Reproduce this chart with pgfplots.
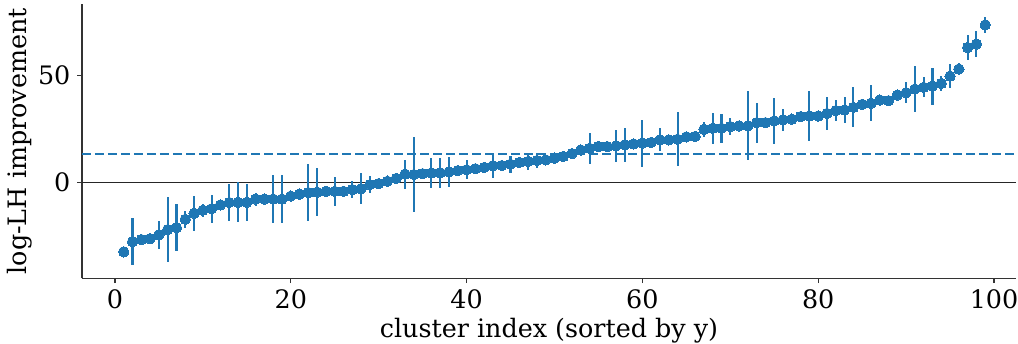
\documentclass[border=0pt]{standalone}
\usepackage{fontspec}
\setmainfont{DejaVu Serif}
\usepackage{pgfplots}
\pgfplotsset{compat=1.18}
\usepackage{pgfplotstable}
\definecolor{c0}{HTML}{1F77B4}
\newcommand\chartfont{\fontsize{25.4pt}{30pt}\selectfont}
\pgfplotstableread{
x y e
1 -32.1 0.8
2 -27.4 11
3 -26.4 1.5
4 -26.0 1.5
5 -24.2 6.6
6 -21.8 15
7 -20.9 11
8 -17.0 4
9 -14.2 8
10 -12.8 3
11 -12.1 6.4
12 -10.3 2
13 -9.2 8.6
14 -9.1 9.2
15 -9.1 8.7
16 -7.6 3
17 -7.6 1.5
18 -7.6 11
19 -7.6 11
20 -6.2 1.5
21 -5.3 2
22 -4.6 13.3
23 -4.4 11
24 -4.0 1.5
25 -4.0 6.7
26 -4.0 2
27 -3.2 4
28 -2.8 7.3
29 -0.9 4
30 -0.4 2
31 0.7 2
32 2.0 2.5
33 4.0 6.7
34 3.8 17.4
35 4.2 1.5
36 4.5 6.8
37 4.6 7
38 5.0 6.8
39 5.6 2
40 6.0 4.5
41 6.5 1.5
42 7.1 1.5
43 7.9 5.5
44 8.0 1.5
45 8.6 4
46 9.4 1.5
47 9.9 3.8
48 10.3 3.5
49 10.6 1.5
50 11.4 1.5
51 12.2 2
52 13.5 1.5
53 15.2 2
54 16.0 7.3
55 16.8 2
56 16.8 1.5
57 17.1 7.5
58 17.6 8
59 18.0 1.5
60 18.4 10.9
61 18.7 2
62 19.9 5.4
63 19.9 1.5
64 20.2 12.5
65 21.3 1.5
66 21.5 1.5
67 24.8 3.5
68 25.3 7.3
69 25.3 6.8
70 26.1 4
71 26.4 1.5
72 26.4 16
73 27.9 9.3
74 27.9 1.5
75 28.7 10.6
76 29.2 5
77 29.5 2.5
78 30.7 1.5
79 31.0 11.6
80 31.0 1.5
81 32.2 7.6
82 33.5 5
83 33.8 6
84 35.0 9.3
85 36.4 1.5
86 36.9 8.3
87 38.4 1.5
88 38.1 1.5
89 40.7 1.5
90 41.8 5
91 43.5 10.6
92 44.3 4.6
93 44.9 8.6
94 46.1 3.5
95 49.5 5.5
96 52.8 3
97 62.8 5.6
98 64.4 6
99 73.3 3.8
}\datatable
\begin{document}
\begin{tikzpicture}
\useasboundingbox (-82pt,-64.7pt) rectangle (936pt,278.3pt);
\begin{axis}[
  at={(0pt,0pt)}, anchor=south west,
  scale only axis, width=934pt, height=274.3pt,
  xmin=-3.75, xmax=102.5, ymin=-44.4, ymax=83.0,
  axis lines*=left,
  axis line style={-, black!80, line width=1.1pt},
  tick align=outside, major tick length=4.9pt,
  tick style={black!80, line width=1.1pt},
  xtick={0,20,40,60,80,100}, ytick={0,50},
  minor tick num=0,
  /pgf/number format/assume math mode=true,
  ticklabel style={font=\chartfont},
  xticklabel style={anchor=north, inner sep=0pt, yshift=-6pt},
  yticklabel style={anchor=east, inner sep=0pt, xshift=-6.5pt},
  xlabel={cluster index (sorted by y)},
  ylabel={log-LH improvement},
  every axis x label/.style={at={(axis description cs:0.5,-0.2175)}, anchor=base, font=\chartfont},
  every axis y label/.style={at={(axis description cs:-0.0589,0.5)}, rotate=90, anchor=base, font=\chartfont},
  clip=false,
]
\addplot[black!85, line width=1.2pt, forget plot] coordinates {(-3.75,0) (102.5,0)};
\addplot[c0, line width=2.4pt, dash pattern=on 9pt off 4pt, forget plot] coordinates {(-3.75,13.4) (102.5,13.4)};
\addplot[c0, only marks, mark=*, mark size=5.2pt, mark options={draw=c0, fill=c0, line width=0pt},
  error bars/.cd, y dir=both, y explicit,
  error bar style={c0, line width=2.1pt}, error mark=none]
  table[x=x, y=y, y error=e] {\datatable};
\end{axis}
\end{tikzpicture}
\end{document}
